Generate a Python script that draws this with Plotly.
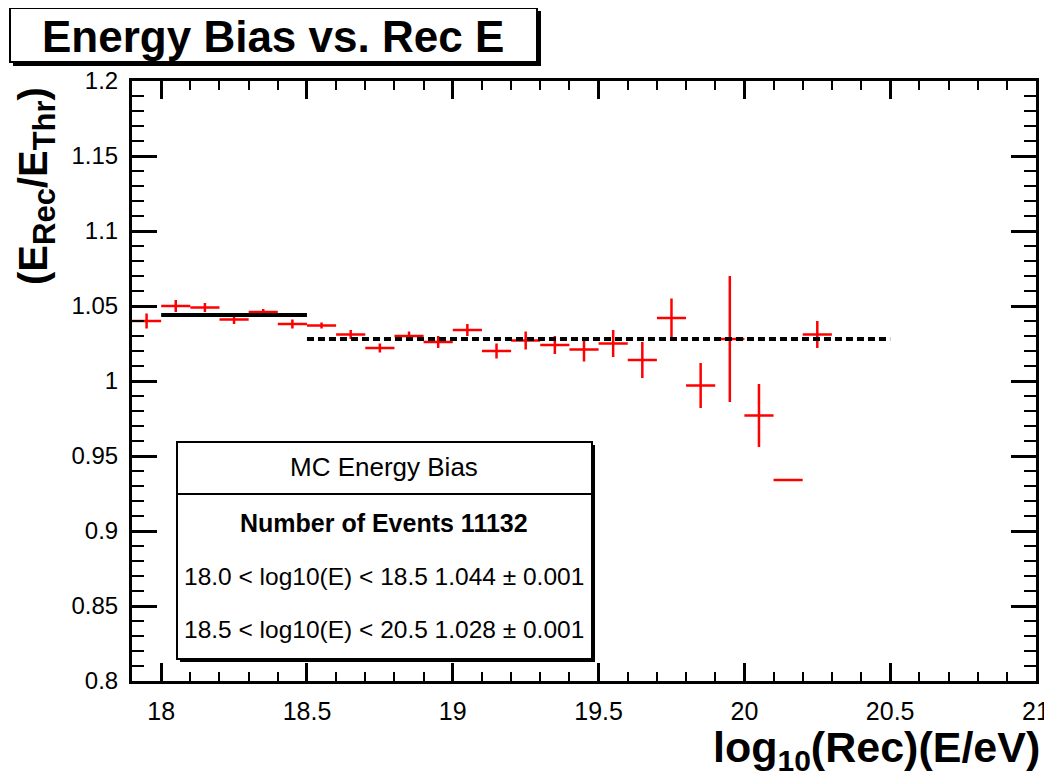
import plotly.graph_objects as go

# ---- data ----
bin_centers = [17.95, 18.05, 18.15, 18.25, 18.35, 18.45, 18.55, 18.65, 18.75, 18.85,
               18.95, 19.05, 19.15, 19.25, 19.35, 19.45, 19.55, 19.65, 19.75, 19.85,
               19.95, 20.05, 20.15, 20.25]
bias = [1.040, 1.050, 1.049, 1.041, 1.046, 1.038, 1.037, 1.031, 1.022, 1.030,
        1.026, 1.034, 1.020, 1.027, 1.024, 1.021, 1.025, 1.014, 1.042, 0.997,
        1.028, 0.977, 0.934, 1.031]
bias_err = [0.005, 0.004, 0.003, 0.003, 0.002, 0.003, 0.002, 0.003, 0.003, 0.003,
            0.004, 0.004, 0.005, 0.006, 0.006, 0.008, 0.009, 0.012, 0.013, 0.015,
            0.042, 0.021, 0.0, 0.009]
half_bin = [0.05] * len(bin_centers)

fit1_x = [18.0, 18.5]
fit1_y = [1.044, 1.044]
fit2_x = [18.5, 20.5]
fit2_y = [1.028, 1.028]

x_tickvals = [18, 18.5, 19, 19.5, 20, 20.5, 21]
x_ticktext = ["18", "18.5", "19", "19.5", "20", "20.5", "21"]
y_tickvals = [0.8, 0.85, 0.9, 0.95, 1.0, 1.05, 1.1, 1.15, 1.2]
y_ticktext = ["0.8", "0.85", "0.9", "0.95", "1", "1.05", "1.1", "1.15", "1.2"]

stats_title = "MC Energy Bias"
stats_lines = ["Number of Events 11132",
               "18.0 < log10(E) < 18.5 1.044 \u00b1 0.001",
               "18.5 < log10(E) < 20.5 1.028 \u00b1 0.001"]

FONT = "Liberation Sans, Arial, Helvetica, sans-serif"

# page has an 8px body margin; figure canvas spans screen x 8..1052, y 8..784
OFF = 8
# plot area in screen pixels
L, R, T, B = 132, 1036, 81, 681
def px(x):
    return (x - L) / (R - L)
def py(y):
    return (B - y) / (B - T)

fig = go.Figure()

fig.add_trace(go.Scatter(
    x=bin_centers, y=bias, mode="markers",
    marker=dict(size=1, color="rgba(255,0,0,0)"),
    error_x=dict(type="data", array=half_bin, color="#ff0000", thickness=2.5, width=0),
    error_y=dict(type="data", array=bias_err, color="#ff0000", thickness=2.5, width=0),
    showlegend=False, hoverinfo="skip"))

fig.add_trace(go.Scatter(x=fit1_x, y=fit1_y, mode="lines",
                         line=dict(color="black", width=4), showlegend=False))
fig.add_trace(go.Scatter(x=fit2_x, y=fit2_y, mode="lines",
                         line=dict(color="black", width=4, dash="7px,4px"), showlegend=False))

shapes = []
# stats box shadow + box
shapes.append(dict(type="rect", xref="paper", yref="paper",
                   x0=px(180), x1=px(595), y0=py(662), y1=py(445),
                   fillcolor="black", line=dict(width=0)))
shapes.append(dict(type="rect", xref="paper", yref="paper",
                   x0=px(177), x1=px(592), y0=py(659), y1=py(442),
                   fillcolor="white", line=dict(color="black", width=2)))
shapes.append(dict(type="line", xref="paper", yref="paper",
                   x0=px(177), x1=px(592), y0=py(494), y1=py(494),
                   line=dict(color="black", width=2)))
# title box shadow + box
shapes.append(dict(type="rect", xref="paper", yref="paper",
                   x0=px(13), x1=px(541), y0=py(66), y1=py(11),
                   fillcolor="black", line=dict(width=0)))
shapes.append(dict(type="rect", xref="paper", yref="paper",
                   x0=px(10), x1=px(537), y0=py(62), y1=py(8),
                   fillcolor="white", line=dict(color="black", width=2)))

annotations = []
annotations.append(dict(text="<b>Energy Bias vs. Rec E</b>", xref="paper", yref="paper",
                        x=px(273), y=py(36), xanchor="center", yanchor="middle",
                        showarrow=False, font=dict(family=FONT, size=44, color="black")))
annotations.append(dict(text=stats_title, xref="paper", yref="paper",
                        x=px(384), y=py(467), xanchor="center", yanchor="middle",
                        showarrow=False, font=dict(family=FONT, size=26, color="black")))
stats_bold = [True, False, False]
for line_text, ypix, bold in zip(stats_lines, [523, 576, 629], stats_bold):
    annotations.append(dict(text=("<b>%s</b>" % line_text) if bold else line_text,
                            xref="paper", yref="paper",
                            x=px(384), y=py(ypix), xanchor="center", yanchor="middle",
                            showarrow=False, font=dict(family=FONT, size=25 if bold else 24.5,
                                                       color="black")))
annotations.append(dict(
    text="<b>(E<sub><span style='font-size:31px'>Rec</span></sub>/E<sub><span style='font-size:31px'>Thr</span></sub>)</b>",
    xref="paper", yref="paper",
    x=px(36), y=py(186), xanchor="center", yanchor="middle", textangle=-90,
    showarrow=False, font=dict(family=FONT, size=40, color="black")))
annotations.append(dict(
    text="<b>log<sub><span style='font-size:30px'>10</span></sub>(Rec)(E/eV)</b>",
    xref="paper", yref="paper",
    x=px(1042), y=py(750), xanchor="right", yanchor="middle",
    showarrow=False, font=dict(family=FONT, size=43, color="black")))

fig.update_layout(
    width=1052 - OFF, height=784 - OFF, autosize=False,
    margin=dict(l=L - OFF, r=1052 - R, t=T - OFF, b=784 - B, pad=0, autoexpand=False),
    paper_bgcolor="white", plot_bgcolor="white",
    shapes=shapes, annotations=annotations,
    font=dict(family=FONT, color="black"),
)

fig.update_xaxes(range=[17.9, 21], tickvals=x_tickvals, ticktext=x_ticktext,
                 ticks="inside", ticklen=18, tickwidth=2.5, tickcolor="black",
                 showline=True, linecolor="black", linewidth=3, mirror="ticks",
                 showgrid=False, zeroline=False, automargin=False,
                 tickfont=dict(family=FONT, size=25, color="black"), ticklabelstandoff=6,
                 minor=dict(ticks="inside", ticklen=9, tickwidth=2, tickcolor="black",
                            dtick=0.1, tick0=18, showgrid=False))
fig.update_yaxes(range=[0.8, 1.2], tickvals=y_tickvals, ticktext=y_ticktext,
                 ticks="inside", ticklen=25, tickwidth=2.5, tickcolor="black",
                 showline=True, linecolor="black", linewidth=3, mirror="ticks",
                 showgrid=False, zeroline=False, automargin=False,
                 tickfont=dict(family=FONT, size=24, color="black"), ticklabelstandoff=6,
                 minor=dict(ticks="inside", ticklen=12, tickwidth=2, tickcolor="black",
                            dtick=0.01, tick0=0.8, showgrid=False))

fig.write_html("out.html")
